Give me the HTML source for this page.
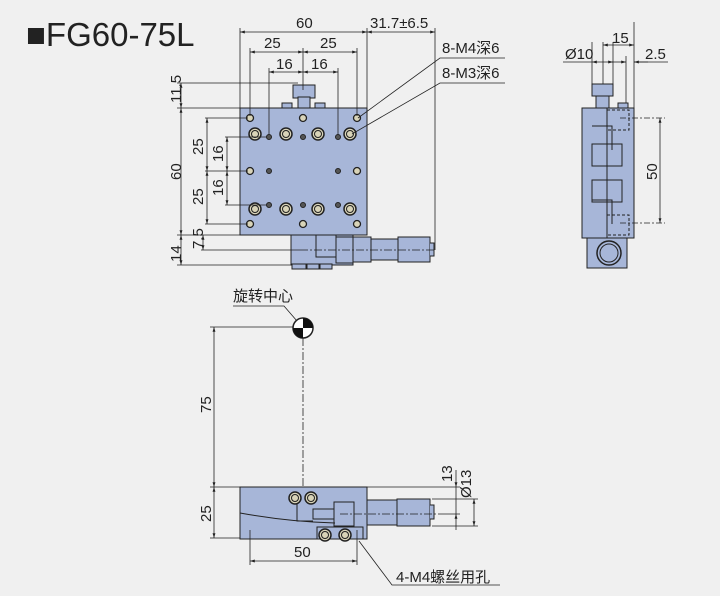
<!DOCTYPE html>
<html><head><meta charset="utf-8"><style>
html,body{margin:0;padding:0;background:#f0f0f0;}
svg{display:block;}
text{font-family:"Liberation Sans","Noto Sans CJK SC",sans-serif;fill:#222;}
</style></head><body>
<svg width="720" height="596" viewBox="0 0 720 596" xmlns="http://www.w3.org/2000/svg">
<defs>
<marker id="a" viewBox="0 0 10 10" refX="10" refY="5" markerWidth="6" markerHeight="6" orient="auto-start-reverse"><path d="M0,2 L10,5 L0,8z" fill="#222"/></marker>
<g id="bh"><circle r="6" fill="#d9d4b8" stroke="#222" stroke-width="1.5"/><circle r="3.5" fill="none" stroke="#222"/></g>
<g id="sh"><circle r="3.5" fill="#d9d4b8" stroke="#222" stroke-width="1.3"/></g>
<g id="th"><circle r="2.5" fill="#555" stroke="#222"/></g>
</defs>
<rect width="720" height="596" fill="#f0f0f0"/>
<text x="26" y="46" font-size="33">■FG60-75L</text>

<!-- TOP VIEW -->
<g stroke="#222" stroke-width="1" fill="none">
<rect x="293" y="85" width="22" height="13" fill="#a7b6d8"/>
<rect x="298" y="97" width="12" height="11" fill="#a7b6d8"/>
<rect x="282" y="103" width="10" height="5" fill="#a7b6d8"/>
<rect x="315" y="103" width="10" height="5" fill="#a7b6d8"/>
<rect x="240" y="108" width="127" height="127" fill="#a7b6d8"/>
<rect x="291" y="235" width="62" height="30" fill="#a7b6d8"/>
<rect x="316" y="235" width="20" height="22" fill="#a7b6d8"/>
<rect x="336" y="237" width="17" height="26" fill="#a7b6d8"/>
<rect x="353" y="237" width="18" height="25" fill="#a7b6d8"/>
<rect x="371" y="239" width="27" height="21" fill="#a7b6d8"/>
<rect x="398" y="237" width="32" height="25" fill="#a7b6d8"/>
<path d="M430,243 h4 v13 h-4" fill="#a7b6d8"/>
<rect x="292" y="264" width="14" height="5" fill="#a7b6d8"/>
<rect x="307" y="264" width="12" height="5" fill="#a7b6d8"/>
<rect x="320" y="264" width="12" height="5" fill="#a7b6d8"/>
</g>
<line x1="300" y1="250" x2="436" y2="250" stroke="#222" stroke-dasharray="8,2,2,2" stroke-width=".8"/>
<g>
<use href="#bh" x="255" y="134"/><use href="#bh" x="286" y="134"/><use href="#bh" x="318" y="134"/><use href="#bh" x="350" y="134"/>
<use href="#bh" x="255" y="209"/><use href="#bh" x="286" y="209"/><use href="#bh" x="318" y="209"/><use href="#bh" x="350" y="209"/>
<use href="#sh" x="250" y="118"/><use href="#sh" x="303" y="118"/><use href="#sh" x="357" y="118"/>
<use href="#sh" x="250" y="171"/><use href="#sh" x="357" y="171"/>
<use href="#sh" x="250" y="224"/><use href="#sh" x="303" y="224"/><use href="#sh" x="357" y="224"/>
<use href="#th" x="269" y="137"/><use href="#th" x="303" y="137"/><use href="#th" x="338" y="137"/>
<use href="#th" x="269" y="171"/><use href="#th" x="338" y="171"/>
<use href="#th" x="269" y="205"/><use href="#th" x="303" y="205"/><use href="#th" x="338" y="205"/>
</g>
<g stroke="#222" stroke-width=".8" fill="none">
<line x1="240" y1="28" x2="240" y2="108"/><line x1="367" y1="28" x2="367" y2="108"/><line x1="435" y1="28" x2="435" y2="250"/>
<line x1="240" y1="32" x2="367" y2="32" marker-start="url(#a)" marker-end="url(#a)"/>
<line x1="367" y1="32" x2="435" y2="32" marker-start="url(#a)" marker-end="url(#a)"/>
<line x1="250" y1="48" x2="250" y2="116"/><line x1="357" y1="48" x2="357" y2="116"/><line x1="303" y1="48" x2="303" y2="90"/>
<line x1="250" y1="52" x2="303" y2="52" marker-start="url(#a)" marker-end="url(#a)"/>
<line x1="303" y1="52" x2="357" y2="52" marker-start="url(#a)" marker-end="url(#a)"/>
<line x1="269" y1="68" x2="269" y2="135"/><line x1="338" y1="68" x2="338" y2="135"/>
<line x1="269" y1="72" x2="303" y2="72" marker-start="url(#a)" marker-end="url(#a)"/>
<line x1="303" y1="72" x2="338" y2="72" marker-start="url(#a)" marker-end="url(#a)"/>
<line x1="177" y1="83" x2="298" y2="83"/><line x1="177" y1="108" x2="240" y2="108"/>
<line x1="177" y1="235" x2="240" y2="235"/><line x1="177" y1="265" x2="292" y2="265"/>
<line x1="181" y1="83" x2="181" y2="108" marker-start="url(#a)" marker-end="url(#a)"/>
<line x1="181" y1="108" x2="181" y2="235" marker-start="url(#a)" marker-end="url(#a)"/>
<line x1="181" y1="235" x2="181" y2="265" marker-start="url(#a)" marker-end="url(#a)"/>
<line x1="201" y1="250" x2="300" y2="250"/>
<line x1="203" y1="235" x2="203" y2="250" marker-start="url(#a)" marker-end="url(#a)"/>
<line x1="205" y1="118" x2="248" y2="118"/><line x1="205" y1="224" x2="248" y2="224"/><line x1="205" y1="171" x2="248" y2="171"/>
<line x1="207" y1="118" x2="207" y2="171" marker-start="url(#a)" marker-end="url(#a)"/>
<line x1="207" y1="171" x2="207" y2="224" marker-start="url(#a)" marker-end="url(#a)"/>
<line x1="225" y1="137" x2="267" y2="137"/><line x1="225" y1="205" x2="267" y2="205"/>
<line x1="227" y1="137" x2="227" y2="171" marker-start="url(#a)" marker-end="url(#a)"/>
<line x1="227" y1="171" x2="227" y2="205" marker-start="url(#a)" marker-end="url(#a)"/>
<path d="M358,118 L440,58 H505"/><path d="M352,134 L440,83 H505"/>
</g>
<g font-size="15">
<text x="296" y="28">60</text><text x="370" y="28">31.7±6.5</text>
<text x="264" y="48">25</text><text x="320" y="48">25</text>
<text x="276" y="69">16</text><text x="311" y="69">16</text>
<text x="442" y="53">8-M4深6</text><text x="442" y="78">8-M3深6</text>
<text transform="translate(181,103) rotate(-90)">11.5</text>
<text transform="translate(181,180) rotate(-90)">60</text>
<text transform="translate(181,262) rotate(-90)">14</text>
<text transform="translate(203,249) rotate(-90)">7.5</text>
<text transform="translate(203,155) rotate(-90)">25</text>
<text transform="translate(203,205) rotate(-90)">25</text>
<text transform="translate(223,162) rotate(-90)">16</text>
<text transform="translate(223,196) rotate(-90)">16</text>
</g>

<!-- SIDE VIEW -->
<g stroke="#222" stroke-width="1" fill="none">
<rect x="592" y="84" width="21" height="12" fill="#a7b6d8"/>
<rect x="596" y="96" width="13" height="12" fill="#a7b6d8"/>
<rect x="618" y="103" width="10" height="5" fill="#a7b6d8"/>
<rect x="582" y="108" width="52" height="130" fill="#a7b6d8"/>
<rect x="587" y="238" width="40" height="30" fill="#a7b6d8"/>
<circle cx="609" cy="253" r="12" fill="#a7b6d8" stroke-width="1.5"/>
<circle cx="609" cy="253" r="9"/>
<path d="M592,126 h20 v24 M592,144 h30 v22 h-30z M592,180 h30 v22 h-30z M592,200 h20 v24"/>
<rect x="607" y="110" width="22" height="20" stroke-dasharray="3,2"/>
<rect x="607" y="215" width="22" height="20" stroke-dasharray="3,2"/>
<line x1="607" y1="108" x2="607" y2="238"/>
</g>
<g stroke="#222" stroke-width=".8" fill="none">
<line x1="592" y1="42" x2="592" y2="84"/><line x1="613" y1="42" x2="613" y2="84"/>
<line x1="603" y1="42" x2="603" y2="84"/><line x1="634" y1="22" x2="634" y2="108"/><line x1="626" y1="56" x2="626" y2="103"/>
<line x1="603" y1="45" x2="634" y2="45" marker-start="url(#a)" marker-end="url(#a)"/>
<line x1="563" y1="62" x2="592" y2="62"/>
<line x1="592" y1="62" x2="613" y2="62" marker-start="url(#a)" marker-end="url(#a)"/>
<line x1="612" y1="62" x2="626" y2="62" marker-end="url(#a)"/>
<line x1="648" y1="62" x2="634" y2="62" marker-end="url(#a)"/>
<line x1="634" y1="62" x2="668" y2="62"/>
<line x1="620" y1="118" x2="665" y2="118" stroke-dasharray="6,2,2,2"/>
<line x1="620" y1="223" x2="665" y2="223" stroke-dasharray="6,2,2,2"/>
<line x1="660" y1="118" x2="660" y2="223" marker-start="url(#a)" marker-end="url(#a)"/>
</g>
<g font-size="15">
<text x="612" y="43">15</text><text x="565" y="59">Ø10</text><text x="645" y="59">2.5</text>
<text transform="translate(657,180) rotate(-90)">50</text>
</g>

<!-- FRONT VIEW -->
<g stroke="#222" stroke-width="1" fill="none">
<rect x="240" y="487" width="127" height="52" fill="#a7b6d8"/>
<rect x="367" y="500" width="30" height="25" fill="#a7b6d8"/>
<rect x="397" y="499" width="33" height="27" fill="#a7b6d8"/>
<path d="M430,505 h4 v14 h-4" fill="#a7b6d8"/>
<rect x="334" y="502" width="20" height="24" fill="#a7b6d8"/>
<rect x="313" y="509" width="21" height="10"/>
<path d="M240,513 Q290,522 335,523"/>
<path d="M297,501 v20 h16"/>
<rect x="317" y="527" width="46" height="12"/>
</g>
<line x1="340" y1="514" x2="440" y2="514" stroke="#222" stroke-dasharray="8,2,2,2" stroke-width=".8"/>
<use href="#bh" x="295" y="498"/><use href="#bh" x="311" y="498"/>
<use href="#bh" x="325" y="535"/><use href="#bh" x="345" y="535"/>
<g stroke="#222" stroke-width=".8" fill="none">
<line x1="303" y1="338" x2="303" y2="487" stroke-dasharray="8,2,2,2"/>
<line x1="210" y1="327" x2="294" y2="327"/>
<line x1="210" y1="487" x2="240" y2="487"/><line x1="210" y1="538" x2="240" y2="538"/>
<line x1="214" y1="327" x2="214" y2="487" marker-start="url(#a)" marker-end="url(#a)"/>
<line x1="214" y1="487" x2="214" y2="538" marker-start="url(#a)" marker-end="url(#a)"/>
<line x1="250" y1="530" x2="250" y2="565"/><line x1="357" y1="530" x2="357" y2="565"/>
<line x1="250" y1="561" x2="357" y2="561" marker-start="url(#a)" marker-end="url(#a)"/>
<line x1="367" y1="487" x2="460" y2="487"/><line x1="440" y1="514" x2="460" y2="514"/>
<line x1="432" y1="499" x2="478" y2="499"/><line x1="432" y1="526" x2="478" y2="526"/>
<line x1="456" y1="470" x2="456" y2="487" marker-end="url(#a)"/>
<line x1="456" y1="530" x2="456" y2="514" marker-end="url(#a)"/>
<line x1="456" y1="487" x2="456" y2="514"/>
<line x1="474" y1="499" x2="474" y2="526" marker-start="url(#a)" marker-end="url(#a)"/>
<path d="M359,541 L392,585 H500"/>
<path d="M233,306 H284 L297,321"/>
</g>
<circle cx="303" cy="328" r="10" fill="#fff" stroke="#222" stroke-width="1.5"/>
<path d="M303,328 V318 A10,10 0 0 1 313,328z M303,328 V338 A10,10 0 0 1 293,328z" fill="#111"/>
<g font-size="15">
<text x="233" y="301">旋转中心</text>
<text transform="translate(211,413) rotate(-90)">75</text>
<text transform="translate(211,522) rotate(-90)">25</text>
<text x="294" y="557">50</text>
<text x="396" y="582">4-M4螺丝用孔</text>
<text transform="translate(452,482) rotate(-90)">13</text>
<text transform="translate(471,498) rotate(-90)">Ø13</text>
</g>
</svg>
</body></html>
